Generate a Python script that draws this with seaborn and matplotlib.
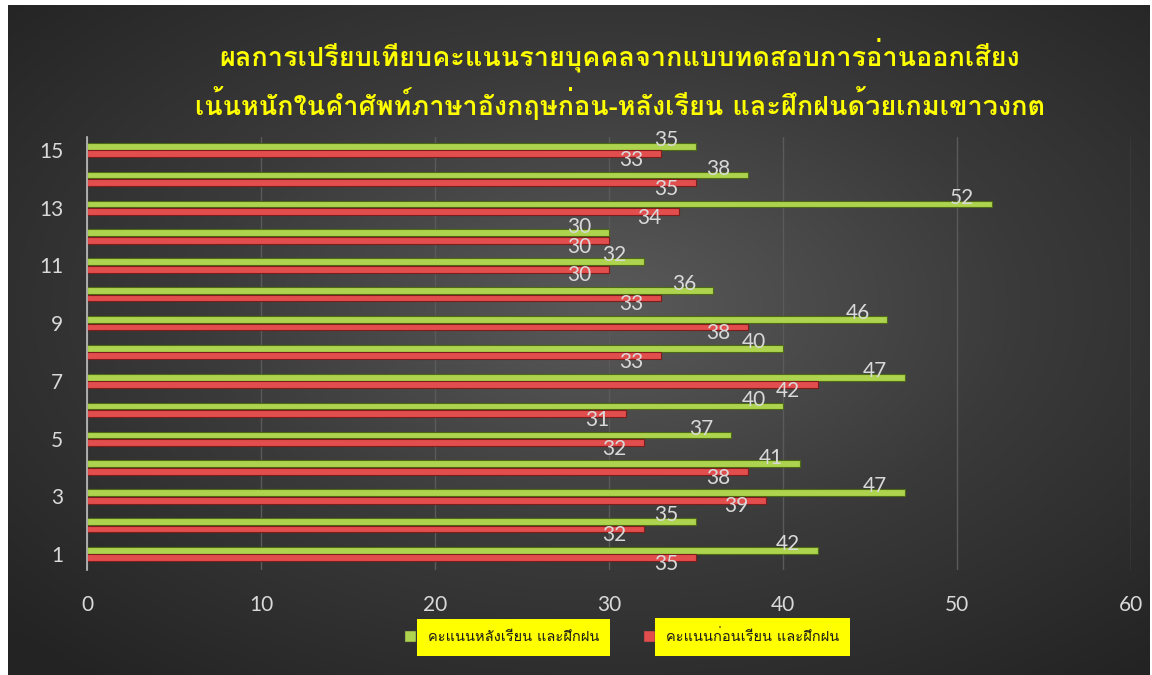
import numpy as np
import pandas as pd
import matplotlib
matplotlib.use("Agg")
import matplotlib.pyplot as plt
from matplotlib import font_manager
from matplotlib.ft2font import FT2Font
from matplotlib.lines import Line2D
import seaborn as sns

# ---------------------------------------------------------------
# data
# ---------------------------------------------------------------
students = [str(i) for i in range(1, 16)]
after_scores = [42, 35, 47, 41, 37, 40, 47, 40, 46, 36, 32, 30, 52, 38, 35]
before_scores = [35, 32, 39, 38, 32, 31, 42, 33, 38, 33, 30, 30, 34, 35, 33]
after_label = "คะแนนหลังเรียน และฝึกฝน"
before_label = "คะแนนก่อนเรียน และฝึกฝน"
title_lines = ["ผลการเปรียบเทียบคะแนนรายบุคคลจากแบบทดสอบการอ่านออกเสียง",
               "เน้นหนักในคำศัพท์ภาษาอังกฤษก่อน-หลังเรียน และฝึกฝนด้วยเกมเขาวงกต"]
x_ticks = [0, 10, 20, 30, 40, 50, 60]


def find_thai_font():
    # pick the first installed family that really has Thai glyphs
    seen = set()
    for f in font_manager.fontManager.ttflist:
        if f.name in seen:
            continue
        seen.add(f.name)
        try:
            if 0x0E01 in FT2Font(f.fname).get_charmap():
                return f.name
        except Exception:
            pass
    return "DejaVu Sans"


df = pd.DataFrame({
    "student": students * 2,
    "score": after_scores + before_scores,
    "group": [after_label] * len(students) + [before_label] * len(students),
})

sns.set_theme(style="dark")
thai = find_thai_font()
plt.rcParams["font.family"] = [thai, "DejaVu Sans"]
num_font = ["Lato", "DejaVu Sans"]
light = "#d9d9d9"

fig = plt.figure(figsize=(11.52, 6.75), dpi=100)
fig.patch.set_facecolor("white")

# dark radial background panel
bg = fig.add_axes([8 / 1152, 0, 1142 / 1152, 670 / 675], zorder=-5)
yy, xx = np.mgrid[-1:1:300j, -1:1:500j]
rr = np.sqrt((xx - 0.05) ** 2 + (yy + 0.1) ** 2)
bg.imshow(rr, cmap=matplotlib.colors.LinearSegmentedColormap.from_list(
    "bgc", ["#5a5a5a", "#3a3a3a", "#232323"]), aspect="auto",
    extent=[0, 1, 0, 1], vmin=0, vmax=1.45)
bg.set_axis_off()

ax = fig.add_axes([87 / 1152, 105 / 675, 1044 / 1152, 433 / 675])
ax.set_facecolor("none")

order = students[::-1]
palette = {after_label: "#aed34e", before_label: "#e24d4d"}
sns.barplot(data=df, y="student", x="score", hue="group", order=order,
            hue_order=[after_label, before_label], palette=palette,
            orient="h", width=0.52, gap=0.1, saturation=1,
            linewidth=0.8, legend=False, ax=ax)

# darker rims per series and value labels near the bar ends
for cont, col, dy in zip(ax.containers, ["#4f6a14", "#7f1c1c"], [4.5, -4.5]):
    for bar in cont:
        bar.set_edgecolor(col)
    labels = [f"{v:.0f}" for v in cont.datavalues]
    texts = ax.bar_label(cont, labels=labels, padding=-30, color=light,
                         fontsize=15, family=num_font)
    for t in texts:
        # nudge green labels up and red labels down so they do not collide
        t.xyann = (t.xyann[0], t.xyann[1] + dy)

ax.set_xlim(0, 60)
ax.set_xticks(x_ticks)
ax.set_xticklabels([str(t) for t in x_ticks], color=light, fontsize=15,
                   family=num_font)
odd_pos = [order.index(s) for s in students if int(s) % 2 == 1]
ax.set_yticks(odd_pos)
ax.set_yticklabels([order[p] for p in odd_pos], color=light, fontsize=15,
                   family=num_font)
ax.set_ylim(len(order) - 0.45, -0.45)
ax.set_xlabel("")
ax.set_ylabel("")
ax.tick_params(axis="y", length=0, pad=17)
ax.tick_params(axis="x", length=0, pad=18)
ax.grid(axis="x", color="#5a5a5a", linewidth=1)
ax.grid(axis="y", visible=False)
for side in ["top", "right", "bottom"]:
    ax.spines[side].set_visible(False)
ax.spines["left"].set_color("#bfbfbf")
ax.spines["left"].set_linewidth(1.2)

# title
for i, line in enumerate(title_lines):
    fig.text(0.538, 1 - (55 + 48 * i) / 675, line, ha="center", va="center",
             color="#ffff00", fontsize=19.5, fontweight="bold")

# legend with yellow highlighted text
handles = [Line2D([], [], marker="s", linestyle="none", markersize=9,
                  markerfacecolor=palette[k], markeredgecolor="#333333")
           for k in [after_label, before_label]]
leg = fig.legend(handles, [after_label, before_label], loc="center",
                 bbox_to_anchor=(0.536, 1 - 637 / 675), ncol=2, frameon=False,
                 fontsize=10.5, handletextpad=0.2, columnspacing=2.4)
for t in leg.get_texts():
    t.set_color("#1a1a1a")
    t.set_bbox(dict(facecolor="#ffff00", edgecolor="none", pad=8))

fig.savefig("out.png", dpi=100)
